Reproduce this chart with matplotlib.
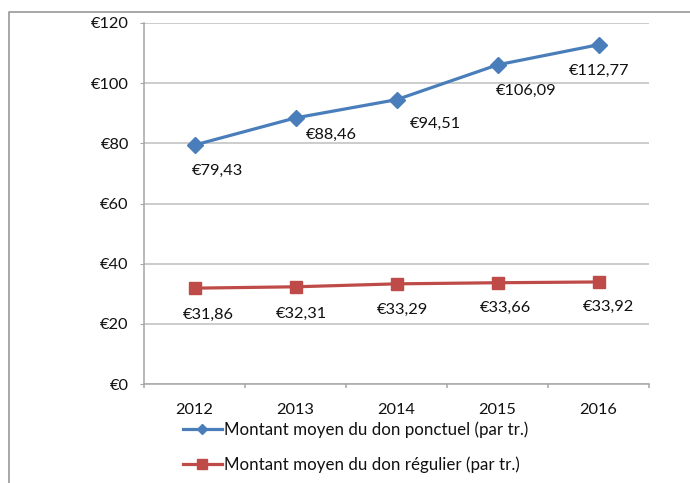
import matplotlib
matplotlib.use("Agg")
import matplotlib.pyplot as plt
from matplotlib.lines import Line2D

plt.rcParams['font.family'] = ['Lato', 'DejaVu Sans']

years = ["2012", "2013", "2014", "2015", "2016"]
ponctuel = [79.43, 88.46, 94.51, 106.09, 112.77]
regulier = [31.86, 32.31, 33.29, 33.66, 33.92]
ponctuel_labels = ["€79,43", "€88,46", "€94,51", "€106,09", "€112,77"]
regulier_labels = ["€31,86", "€32,31", "€33,29", "€33,66", "€33,92"]
yticks = [0, 20, 40, 60, 80, 100, 120]
ytick_labels = ["€0", "€20", "€40", "€60", "€80", "€100", "€120"]
series_names = ["Montant moyen du don ponctuel (par tr.)",
                "Montant moyen du don régulier (par tr.)"]

# label offsets in pixels (dx, dy) – style only
ponct_off = [(23, -26), (36, -17), (39, -24), (29, -26), (1, -26)]
reg_off = [(14, -27), (6, -27), (6, -26), (8, -25), (10, -25)]

W, H = 690, 483
fig = plt.figure(figsize=(W / 100, H / 100), dpi=100)
ax = fig.add_axes([144 / W, 1 - 384 / H, (649 - 144) / W, (384 - 23) / H])

blue = "#4A7EBB"
red = "#BE4B48"
txt = "#111111"
fs = 11.8
x = list(range(len(years)))
ax.plot(x, ponctuel, color=blue, lw=2.3, marker="D", markersize=8.5,
        markerfacecolor=blue, markeredgecolor=blue, label=series_names[0], zorder=3)
ax.plot(x, regulier, color=red, lw=2.3, marker="s", markersize=9,
        markerfacecolor=red, markeredgecolor=red, label=series_names[1], zorder=3)

for xi, v, lab, (dx, dy) in zip(x, ponctuel, ponctuel_labels, ponct_off):
    ax.annotate(lab, (xi, v), xytext=(dx * 0.72, dy * 0.72), textcoords="offset points",
                ha="center", va="center", fontsize=fs, color=txt)
for xi, v, lab, (dx, dy) in zip(x, regulier, regulier_labels, reg_off):
    ax.annotate(lab, (xi, v), xytext=(dx * 0.72, dy * 0.72), textcoords="offset points",
                ha="center", va="center", fontsize=fs, color=txt)

ax.set_xlim(-0.5, len(years) - 0.5)
ax.set_ylim(0, 120)
ax.set_yticks(yticks)
ax.set_yticklabels(ytick_labels)
ax.set_xticks(x)
ax.set_xticklabels(years)
ax.set_xticks([i - 0.5 for i in range(len(years) + 1)], minor=True)

ax.grid(axis="y", color="#BFBFBF", lw=1.1)
ax.set_axisbelow(True)
for s in ["top", "right"]:
    ax.spines[s].set_visible(False)
for s in ["left", "bottom"]:
    ax.spines[s].set_color("#A6A6A6")
    ax.spines[s].set_linewidth(1.1)

ax.tick_params(axis="y", length=3, color="#A6A6A6", pad=8, labelsize=fs, labelcolor=txt)
ax.tick_params(axis="x", which="major", length=0, pad=14, labelsize=fs, labelcolor=txt)
ax.tick_params(axis="x", which="minor", length=3, color="#A6A6A6", width=1.1)

leg = fig.legend(loc="upper left", bbox_to_anchor=(183 / W, 1 - 421 / H),
                 frameon=False, fontsize=12.2, handlelength=2.3, handletextpad=0.12,
                 labelspacing=1.1, borderpad=0, borderaxespad=0)
hs = leg.legend_handles
hs[0].set_markersize(5)
hs[1].set_markersize(7.5)
for t in leg.get_texts():
    t.set_color(txt)

# outer frame (top and left edges)
fig.add_artist(Line2D([9 / W, 9 / W, 1.0], [0.0, 1 - 12 / H, 1 - 12 / H],
                      transform=fig.transFigure, color="#A0A0A0", lw=1.3))

fig.savefig("out.png", dpi=100)
